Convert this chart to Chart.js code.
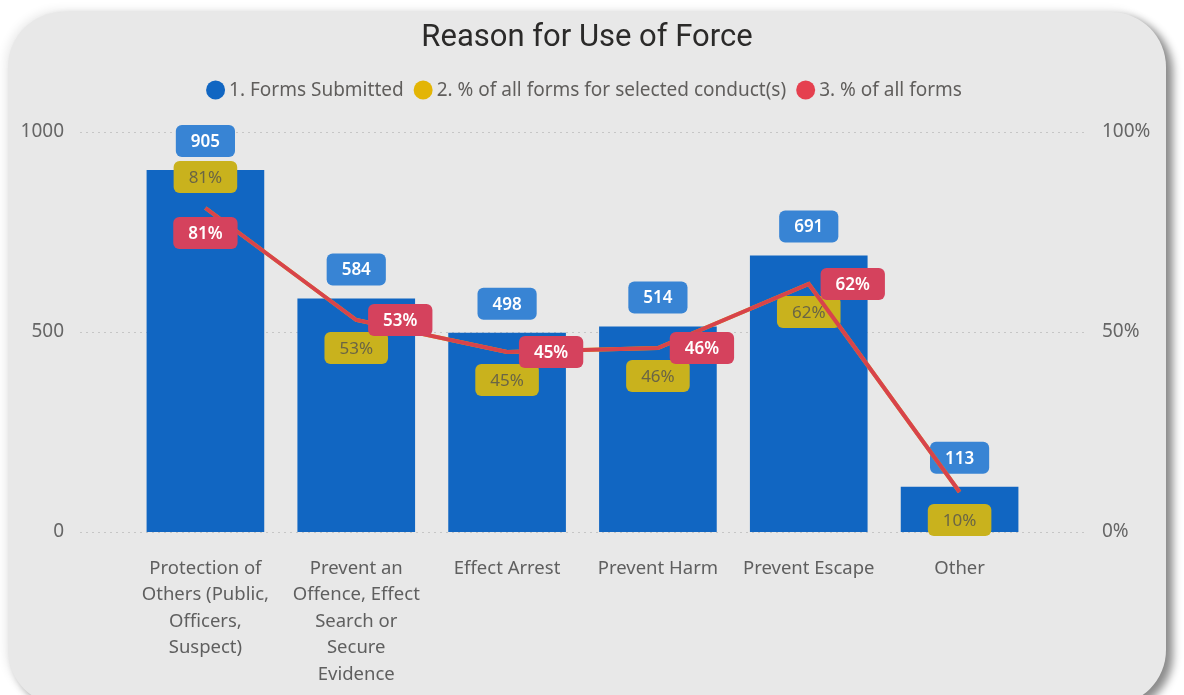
<!DOCTYPE html>
<html>
<head>
<meta charset="utf-8">
<title>Reason for Use of Force</title>
<script src="https://cdn.jsdelivr.net/npm/chart.js@4.4.1/dist/chart.umd.min.js"></script>
<style>
  html, body { margin: 0; padding: 0; background: #fff; }
  body { width: 1184px; height: 695px; position: relative; overflow: hidden; }
  #card {
    position: absolute; left: 8px; top: 12px; width: 1158px; height: 693px;
    background: #e8e8e8; border-radius: 55px;
    box-shadow: 7px 5px 9px rgba(0,0,0,0.45), -3px -2px 10px rgba(0,0,0,0.08);
  }
  #wrap { position: absolute; left: 0; top: 0; width: 1184px; height: 695px; }
</style>
</head>
<body>
<div id="card"></div>
<div id="wrap"><canvas id="chart" width="1184" height="695"></canvas></div>
<script>
'use strict';

// categories (pre-wrapped the way the report wraps them)
const categories = [
  ['Protection of', 'Others (Public,', 'Officers,', 'Suspect)'],
  ['Prevent an', 'Offence, Effect', 'Search or', 'Secure', 'Evidence'],
  'Effect Arrest',
  'Prevent Harm',
  'Prevent Escape',
  'Other'
];
const formsSubmitted = [905, 584, 498, 514, 691, 113];
const pctSelectedConduct = [81, 53, 45, 46, 62, 10];
const pctAllForms = [81, 53, 45, 46, 62, 10];
const countTicks = [0, 500, 1000];
const pctTicks = [0, 50, 100];

// where the data label boxes sit relative to their point
const yellowTagPos = ['above', 'below', 'below', 'below', 'below', 'below'];
const redTagPos = ['below', 'right', 'right', 'right', 'right', null];

const FONT = '"Noto Sans", "Open Sans", sans-serif';

function drawTag(ctx, text, cx, cy, fill, color, weight) {
  ctx.font = weight + ' 17px ' + FONT;
  let w = ctx.measureText(text).width + 30;
  let h = 32;
  ctx.fillStyle = fill;
  ctx.beginPath();
  ctx.roundRect(cx - w / 2, cy - h / 2, w, h, 6);
  ctx.fill();
  ctx.fillStyle = color;
  ctx.textAlign = 'center';
  ctx.textBaseline = 'middle';
  ctx.fillText(text, cx, cy + 1);
}

// dotted grid lines that run a little past the plot, like the report
const gridPlugin = {
  id: 'dottedGrid',
  beforeDatasetsDraw(chart) {
    let ctx = chart.ctx;
    let area = chart.chartArea;
    let y = chart.scales.y;
    ctx.save();
    ctx.strokeStyle = '#c6c6c6';
    ctx.lineWidth = 1;
    ctx.setLineDash([2, 4]);
    y.ticks.forEach(t => {
      let py = Math.round(y.getPixelForValue(t.value)) + 0.5;
      ctx.beginPath();
      ctx.moveTo(area.left - 50, py);
      ctx.lineTo(area.right + 50, py);
      ctx.stroke();
    });
    ctx.restore();
  }
};

const tagPlugin = {
  id: 'tags',
  afterDatasetDraw(chart, args) {
    let ctx = chart.ctx;
    let ds = chart.data.datasets[args.index];
    let tag = ds.tag;
    if (!tag) return;
    ctx.save();
    args.meta.data.forEach((el, i) => {
      let pos = tag.pos[i];
      if (!pos) return;
      let x = el.x, y = el.y;
      if (pos === 'above') y -= tag.above;
      if (pos === 'below') y += tag.below;
      if (pos === 'right') x += 44;
      drawTag(ctx, tag.fmt(ds.data[i]), x, y, tag.fill, tag.color, tag.weight);
    });
    ctx.restore();
  }
};

const legendPlugin = {
  id: 'dotLegend',
  afterDraw(chart) {
    let ctx = chart.ctx;
    ctx.save();
    ctx.font = '19px ' + FONT;
    ctx.textBaseline = 'middle';
    ctx.textAlign = 'left';
    let r = 9.5, gap = 4, itemGap = 10;
    let items = chart.data.datasets.map(ds => ({ text: ds.label, color: ds.backgroundColor }));
    let total = 0;
    items.forEach((it, i) => {
      it.w = ctx.measureText(it.text).width;
      total += 2 * r + gap + it.w + (i ? itemGap : 0);
    });
    let x = 584 - total / 2;
    let cy = 90;
    items.forEach(it => {
      ctx.fillStyle = it.color;
      ctx.beginPath();
      ctx.arc(x + r, cy, r, 0, Math.PI * 2);
      ctx.fill();
      ctx.fillStyle = '#605e5c';
      ctx.fillText(it.text, x + 2 * r + gap, cy + 1);
      x += 2 * r + gap + it.w + itemGap;
    });
    ctx.restore();
  }
};

let canvasElem = document.getElementById('chart');

let data = {
  labels: categories,
  datasets: [{
    type: 'bar',
    label: '1. Forms Submitted',
    data: formsSubmitted,
    backgroundColor: '#1166c2',
    yAxisID: 'y',
    order: 3,
    categoryPercentage: 1,
    barPercentage: 0.78,
    tag: {
      pos: formsSubmitted.map(() => 'above'),
      above: 29, below: 0,
      fill: '#3884d4', color: '#ffffff', weight: '600',
      fmt: v => String(v)
    }
  }, {
    type: 'line',
    label: '2. % of all forms for selected conduct(s)',
    data: pctSelectedConduct,
    backgroundColor: '#e3b505',
    borderColor: '#d9b312',
    borderWidth: 4,
    pointRadius: 0,
    yAxisID: 'y1',
    order: 2,
    tag: {
      pos: yellowTagPos,
      above: 31, below: 28,
      fill: '#c9b21d', color: '#6a6545', weight: '400',
      fmt: v => v + '%'
    }
  }, {
    type: 'line',
    label: '3. % of all forms',
    data: pctAllForms,
    backgroundColor: '#e5404f',
    borderColor: '#d8434b',
    borderWidth: 4,
    pointRadius: 0,
    yAxisID: 'y1',
    order: 1,
    tag: {
      pos: redTagPos,
      above: 0, below: 25,
      fill: '#d5425d', color: '#ffffff', weight: '600',
      fmt: v => v + '%'
    }
  }]
};

let config = {
  type: 'bar',
  data: data,
  plugins: [gridPlugin, tagPlugin, legendPlugin],
  options: {
    responsive: false,
    devicePixelRatio: 1,
    animation: false,
    events: [],
    layout: { padding: { top: 12, left: 0, right: 10, bottom: 0 } },
    plugins: {
      legend: { display: false },
      tooltip: { enabled: false },
      title: {
        display: true,
        text: 'Reason for Use of Force',
        color: '#2b2a29',
        font: { family: 'Roboto, ' + FONT, size: 31, weight: '400', lineHeight: 1.2 },
        padding: { top: 7.4, bottom: 75.4 }
      }
    },
    scales: {
      x: {
        grid: { display: false },
        border: { display: false },
        ticks: {
          padding: 15,
          maxRotation: 0,
          autoSkip: false,
          color: '#5f5f5f',
          font: { family: FONT, size: 18.5, lineHeight: '26.5px' }
        },
        afterFit: s => { s.height = 163; }
      },
      y: {
        position: 'left',
        min: 0,
        max: 1000,
        afterBuildTicks: s => { s.ticks = countTicks.map(v => ({ value: v })); },
        grid: { display: false },
        border: { display: false },
        ticks: { padding: 58, color: '#666', font: { family: FONT, size: 19 }, callback: v => String(v) },
        afterFit: s => { s.width = 130; }
      },
      y1: {
        position: 'right',
        min: 0,
        max: 100,
        afterBuildTicks: s => { s.ticks = pctTicks.map(v => ({ value: v })); },
        grid: { display: false },
        border: { display: false },
        ticks: { padding: 59, color: '#666', font: { family: FONT, size: 19 }, callback: v => v + '%' },
        afterFit: s => { s.width = 139; }
      }
    }
  }
};

let myChart = new Chart(canvasElem, config);
</script>
</body>
</html>
